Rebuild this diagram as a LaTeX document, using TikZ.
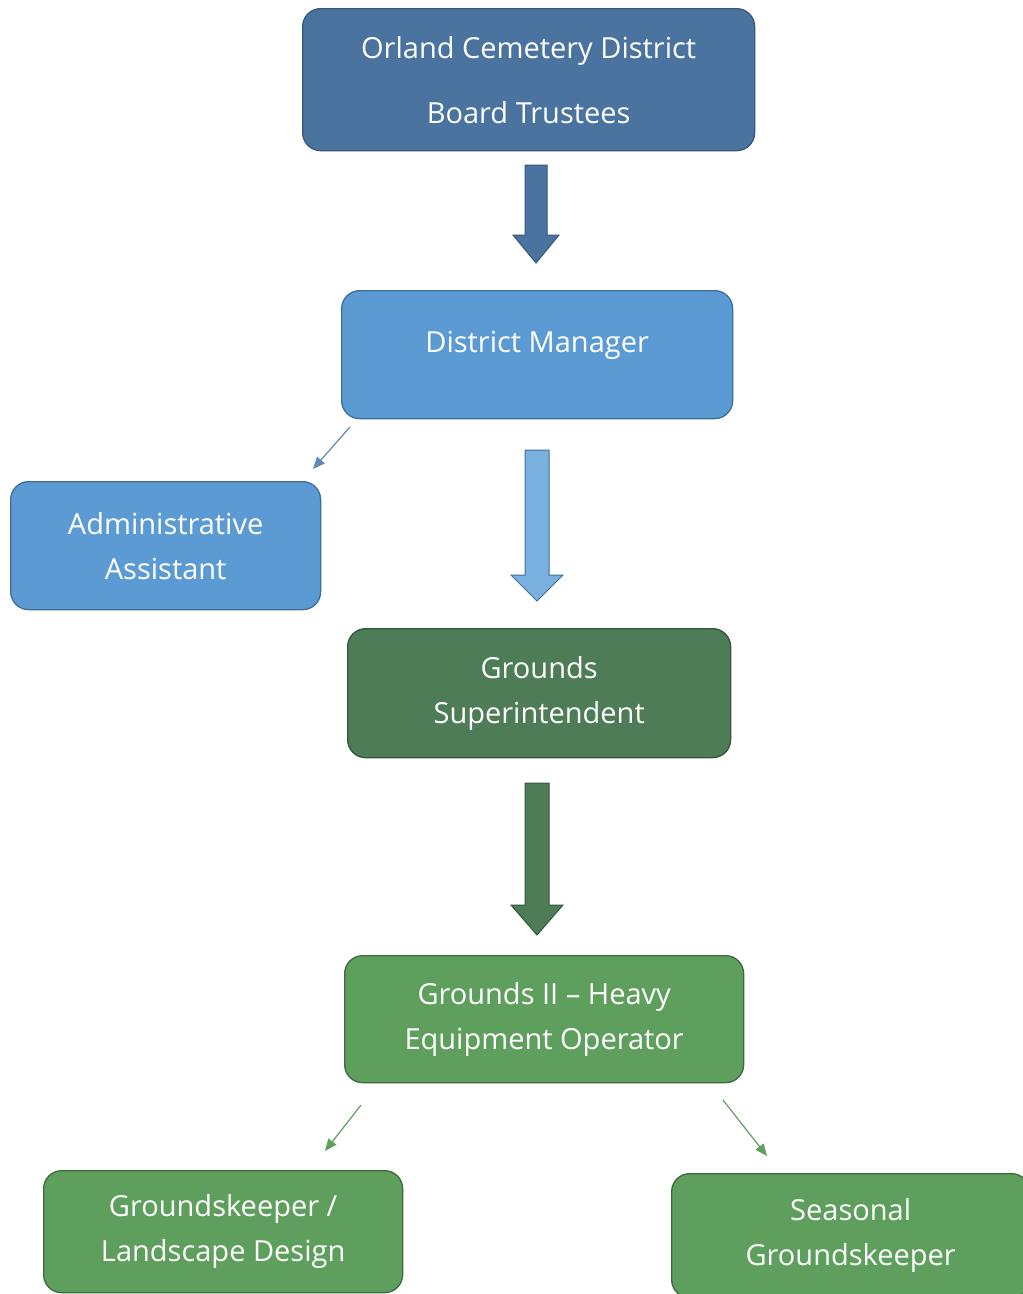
\documentclass[tikz,border=0pt]{standalone}
\usepackage{fontspec}
\setmainfont{Open Sans}
\usetikzlibrary{arrows.meta}
\definecolor{navyb}{HTML}{4B73A0}
\definecolor{navyd}{HTML}{37577A}
\definecolor{skyb}{HTML}{5C9AD4}
\definecolor{skyd}{HTML}{3E6E99}
\definecolor{skyarrow}{HTML}{79B0E0}
\definecolor{dgreen}{HTML}{4D7C57}
\definecolor{dgreend}{HTML}{35573C}
\definecolor{mgreen}{HTML}{5F9F5D}
\definecolor{mgreend}{HTML}{3E6B3E}
\definecolor{thinblue}{HTML}{5A8BB6}
\definecolor{thingreen}{HTML}{5FA05E}
\newcommand{\blockarr}[8]{% x, ytop, yneck, ytip, shaft half, head half, fill, draw
  \draw[fill=#7,draw=#8,line width=1pt,line join=miter]
    (#1-#5,#2) -- (#1+#5,#2) -- (#1+#5,#3) -- (#1+#6,#3) -- (#1,#4)
    -- (#1-#6,#3) -- (#1-#5,#3) -- cycle;}
\begin{document}
\begin{tikzpicture}[x=1pt,y=-1pt,
  box/.style={rounded corners=18pt,line width=1.3pt,text=white,align=center,
    font=\fontsize{29}{45}\selectfont,inner sep=0pt,anchor=north west},
  thin/.style={line width=1.2pt,-{Triangle[length=12pt,width=10pt]}}]
\fill[white] (0,0) rectangle (1023,1294);
\useasboundingbox (0,0) rectangle (1023,1294);
\node[box,fill=navyb,draw=navyd,minimum width=452pt,minimum height=142pt] (top) at (302,8)
  {Orland Cemetery District\\[20pt]Board Trustees};
\node[box,fill=skyb,draw=skyd,minimum width=391pt,minimum height=128pt,text depth=26pt] (dm) at (341,290)
  {District Manager};
\node[box,fill=skyb,draw=skyd,minimum width=310pt,minimum height=128pt] (aa) at (10,481)
  {Administrative\\Assistant};
\node[box,fill=dgreen,draw=dgreend,minimum width=383pt,minimum height=129pt] (gs) at (347,628)
  {Grounds\\Superintendent};
\node[box,fill=mgreen,draw=mgreend,minimum width=399pt,minimum height=127pt] (g2) at (344,955)
  {Grounds II – Heavy\\Equipment Operator};
\node[box,fill=mgreen,draw=mgreend,minimum width=359pt,minimum height=122pt] (gk) at (43,1170)
  {Groundskeeper /\\Landscape Design};
\node[box,fill=mgreen,draw=mgreend,minimum width=358pt,minimum height=124pt] (sg) at (671,1173)
  {Seasonal\\Groundskeeper};
% block arrows
\blockarr{536}{165}{235}{263}{11}{23}{navyb}{navyd}
\blockarr{537}{450}{575}{601}{12}{26}{skyarrow}{skyd}
\blockarr{537}{783}{905}{935}{12}{26}{dgreen}{dgreend}
% thin arrows
\coordinate (a1s) at (350,427); \coordinate (a1e) at (313,469);
\coordinate (a2s) at (361,1105); \coordinate (a2e) at (325,1151);
\coordinate (a3s) at (723,1100); \coordinate (a3e) at (767,1156);
\draw[thin,draw=thinblue,fill=thinblue] (a1s) -- (a1e);
\draw[thin,draw=thingreen,fill=thingreen] (a2s) -- (a2e);
\draw[thin,draw=thingreen,fill=thingreen] (a3s) -- (a3e);
\end{tikzpicture}
\end{document}
